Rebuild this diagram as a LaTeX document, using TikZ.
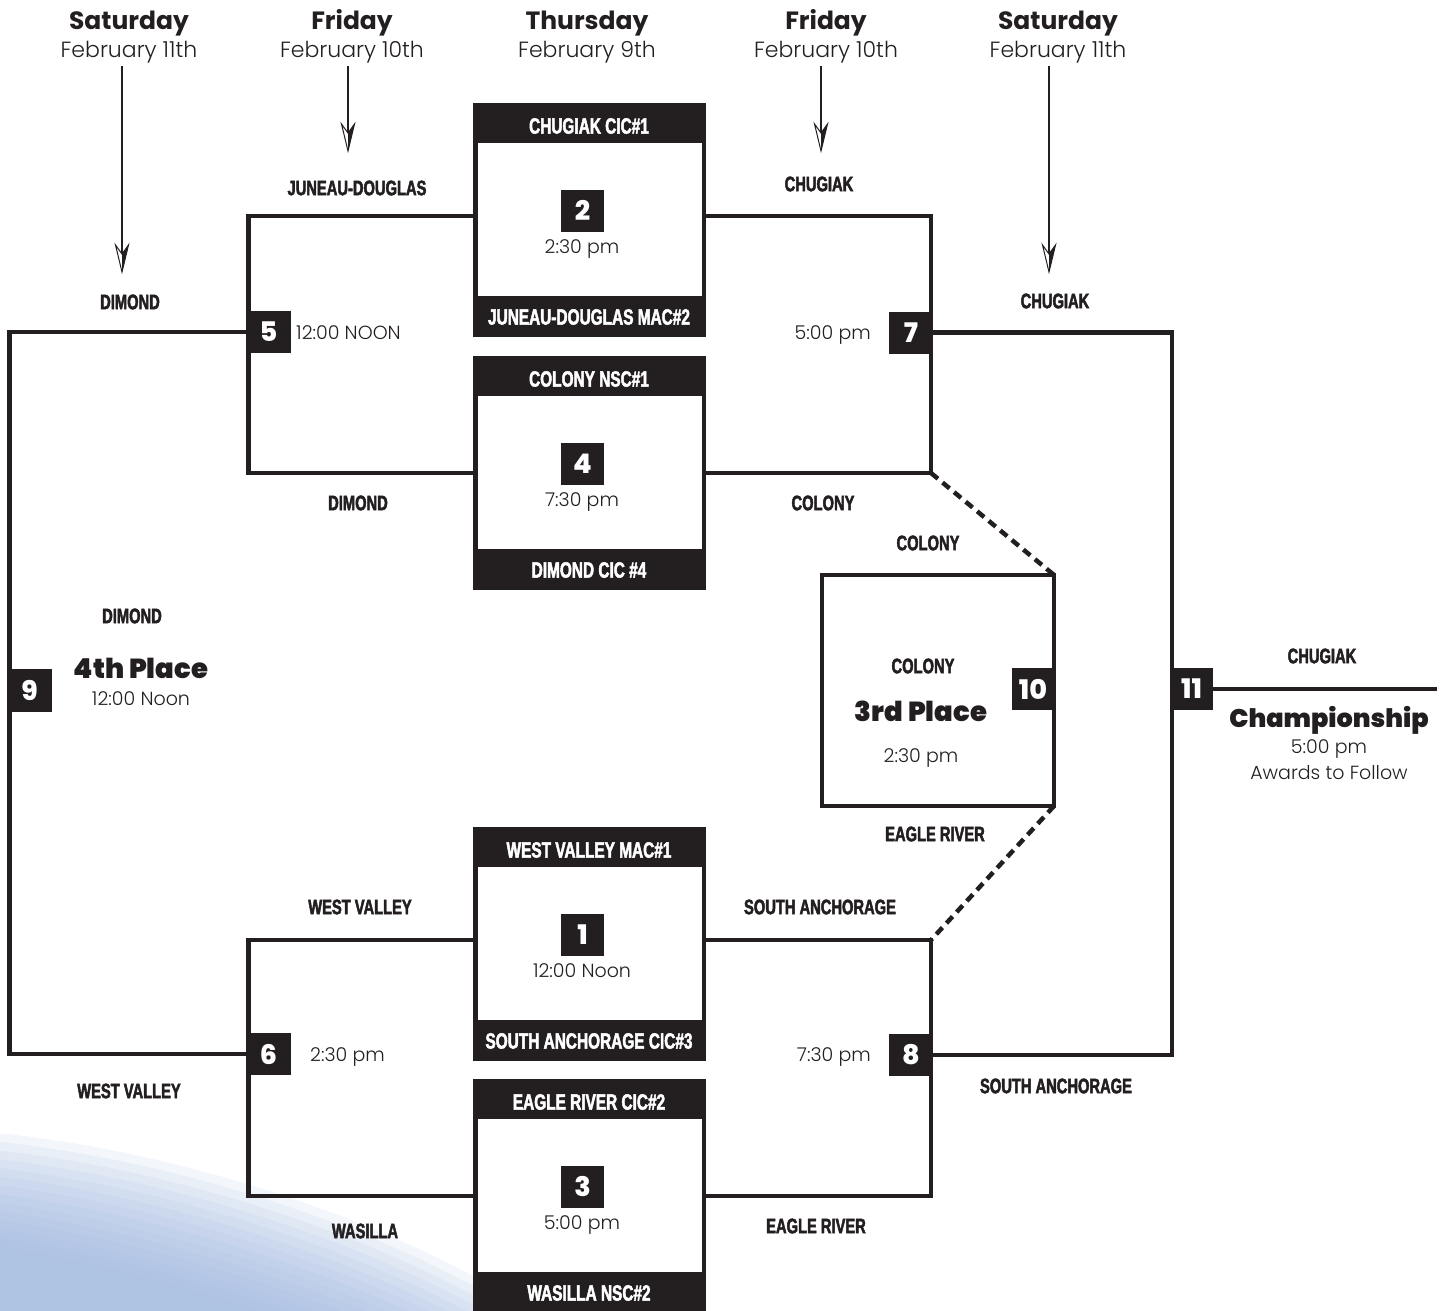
\documentclass[tikz,border=0pt]{standalone}
\usepackage{fontspec}
\setmainfont{Poppins}
\newfontfamily\bookfont{Poppins Light}
\newfontfamily\boldfont{Poppins Bold}
\newfontfamily\heavyfont{Poppins ExtraBold}
\newfontfamily\blackfont{Poppins Black}
\newfontfamily\teamfont[FakeStretch=0.70,FakeBold=2.2]{Liberation Sans Bold}
\usetikzlibrary{arrows.meta}
\definecolor{ink}{HTML}{231F20}
\definecolor{ice}{RGB}{160,183,222}
\tikzset{
  bk/.style={draw=ink, line width=4.5pt},
  dsh/.style={draw=ink, line width=4.5pt, dash pattern=on 9pt off 6pt},
  thinline/.style={draw=ink, line width=1.8pt},
  numbox/.style={fill=ink, text=white, inner sep=0pt, outer sep=0pt, minimum width=43pt, minimum height=42pt, font=\heavyfont\fontsize{27}{27}\selectfont},
  team/.style={text=ink, inner sep=0pt, font=\teamfont\fontsize{21}{21}\selectfont},
  hdr/.style={text=white, inner sep=0pt, font=\teamfont\fontsize{22}{22}\selectfont},
  timetxt/.style={text=ink, inner sep=0pt, anchor=base, font=\bookfont\fontsize{19}{19}\selectfont},
  dayname/.style={text=ink, inner sep=0pt, anchor=base, font=\boldfont\fontsize{25}{25}\selectfont},
  daydate/.style={text=ink, inner sep=0pt, anchor=base, font=\bookfont\fontsize{22}{22}\selectfont},
  place/.style={text=ink, inner sep=0pt, anchor=base, font=\blackfont\fontsize{27.5}{27.5}\selectfont},
  gamebox/.style={fill=ink, inner sep=0pt, outer sep=0pt, minimum width=233pt, minimum height=234pt},
  gamein/.style={fill=white, inner sep=0pt, outer sep=0pt, minimum width=224pt, minimum height=153pt},
  ahead/.pic={
    \draw[ink, line width=1pt, fill=white, line join=miter] (0,0) -- (-6.5,-27) -- (0,-18) -- (6.5,-27) -- cycle;
    \fill[ink] (0,0) -- (0,-18) -- (6.5,-27) -- cycle;
  }
}
\newcommand\bracketgame[6]{%
  \node[gamebox] (#1) at (589.5,#2+117) {};
  \node[gamein] (#1w) at (590,#2+116.5) {};
  \node[hdr] (#1h) at (589,#2+23) {#3};
  \node[hdr] (#1f) at (589,#2+214) {#4};
  \node[numbox] (#1n) at (582.5,#2+107.5) {#5};
  \node[timetxt] (#1t) at (582,#2+150) {#6};
}
\begin{document}
\begin{tikzpicture}[x=1pt,y=-1pt]
\useasboundingbox (0,0) rectangle (1448,1311);
% icy background, bottom left
\begin{scope}
\clip (0,0) rectangle (1448,1311);
\foreach \k in {0,...,13}
  \fill[ice, opacity=0.12] (170,1375) ellipse [x radius=540pt-\k*9pt, y radius=205pt-\k*9pt, rotate=-16];
\end{scope}

% day headers
\node[dayname] (d1) at (129,30) {Saturday};
\node[daydate] (e1) at (129,58) {February 11th};
\node[dayname] (d2) at (352,30) {Friday};
\node[daydate] (e2) at (352,58) {February 10th};
\node[dayname] (d3) at (587,30) {Thursday};
\node[daydate] (e3) at (587,58) {February 9th};
\node[dayname] (d4) at (826,30) {Friday};
\node[daydate] (e4) at (826,58) {February 10th};
\node[dayname] (d5) at (1058,30) {Saturday};
\node[daydate] (e5) at (1058,58) {February 11th};

% arrows
\coordinate (a1s) at (122,66); \coordinate (a1e) at (122,272);
\coordinate (a2s) at (348,66); \coordinate (a2e) at (348,151);
\coordinate (a3s) at (821,66); \coordinate (a3e) at (821,151);
\coordinate (a4s) at (1049,66); \coordinate (a4e) at (1049,272);
\draw[thinline] (a1s) -- ([yshift=18pt]a1e);
\draw[thinline] (a2s) -- ([yshift=18pt]a2e);
\draw[thinline] (a3s) -- ([yshift=18pt]a3e);
\draw[thinline] (a4s) -- ([yshift=18pt]a4e);
\pic at (a1e) {ahead};
\pic at (a2e) {ahead};
\pic at (a3e) {ahead};
\pic at (a4e) {ahead};

% game boxes
\bracketgame{g2}{103}{CHUGIAK CIC\#1}{JUNEAU-DOUGLAS MAC\#2}{2}{2:30 pm}
\bracketgame{g4}{356}{COLONY NSC\#1}{DIMOND CIC \#4}{4}{7:30 pm}
\bracketgame{g1}{827}{WEST VALLEY MAC\#1}{SOUTH ANCHORAGE CIC\#3}{1}{12:00 Noon}
\bracketgame{g3}{1079}{EAGLE RIVER CIC\#2}{WASILLA NSC\#2}{3}{5:00 pm}

% 3rd place box
\node[draw=ink, line width=4.5pt, inner sep=0pt, outer sep=0pt, minimum width=232pt, minimum height=231pt] (b10) at (938,690.5) {};

% bracket number boxes
\node[numbox, minimum width=45pt] (n5) at (268.5,332) {5};
\node[numbox, minimum width=44pt] (n7) at (911,332.5) {7};
\node[numbox, minimum width=45pt] (n6) at (268.5,1054) {6};
\node[numbox, minimum width=44pt] (n8) at (911,1055) {8};
\node[numbox, minimum width=45pt, minimum height=43pt] (n9) at (29.5,690.5) {9};
\node[numbox] (n10) at (1033,689) {10};
\node[numbox] (n11) at (1191.5,689) {11};

% bracket lines
\coordinate (q5) at (248.5,350);
\coordinate (q7) at (931,350);
\coordinate (q6) at (248.5,1050);
\coordinate (q8) at (931,1050);
\coordinate (q9) at (9.5,700);
\coordinate (q11) at (1172,700);
\coordinate (c7) at (931,473);
\coordinate (c8) at (931,940);
\coordinate (champend) at (1437,689);
\draw[bk] ([yshift=4pt]g2.west) -| (q5) |- (g4.west);
\draw[bk] ([yshift=4pt]g2.east) -| (q7) |- (g4.east);
\draw[bk] ([yshift=4pt]g1.west) -| (q6) |- (g3.west);
\draw[bk] ([yshift=4pt]g1.east) -| (q8) |- (g3.east);
\draw[bk] (n5.west) -| (q9) |- (n6.west);
\draw[bk] (n7.east) -| (q11) |- (n8.east);
\draw[bk] (n11.east) -- (champend);
\draw[dsh] (c7) -- (b10.north east);
\draw[dsh] (b10.south east) -- (c8);

% bracket times
\node[timetxt, anchor=base west] (t5) at (296,339) {12:00 NOON};
\node[timetxt, anchor=base east] (t7) at (871,339) {5:00 pm};
\node[timetxt, anchor=base west] (t6) at (310,1061) {2:30 pm};
\node[timetxt, anchor=base east] (t8) at (871,1061) {7:30 pm};

% team labels
\node[team] (l1) at (357,188) {JUNEAU-DOUGLAS};
\node[team] (l2) at (130,302) {DIMOND};
\node[team] (l3) at (819,184) {CHUGIAK};
\node[team] (l4) at (1055,301) {CHUGIAK};
\node[team] (l5) at (358,503) {DIMOND};
\node[team] (l6) at (823,503) {COLONY};
\node[team] (l7) at (928,543) {COLONY};
\node[team] (l8) at (132,616) {DIMOND};
\node[team] (l9) at (923,666) {COLONY};
\node[team] (l10) at (1322,656) {CHUGIAK};
\node[team] (l11) at (935,834) {EAGLE RIVER};
\node[team] (l12) at (360,907) {WEST VALLEY};
\node[team] (l13) at (820,907) {SOUTH ANCHORAGE};
\node[team] (l14) at (129,1091) {WEST VALLEY};
\node[team] (l15) at (1056,1086) {SOUTH ANCHORAGE};
\node[team] (l16) at (365,1231) {WASILLA};
\node[team] (l17) at (816,1226) {EAGLE RIVER};

% placement games
\node[place] (p4) at (141,678) {4th Place};
\node[timetxt] (p4t) at (141,705) {12:00 Noon};
\node[place] (p3) at (921,721) {3rd Place};
\node[timetxt] (p3t) at (921,762) {2:30 pm};
\node[place, font=\blackfont\fontsize{25.5}{25.5}\selectfont] (pc) at (1329,727) {Championship};
\node[timetxt] (pct) at (1329,753) {5:00 pm};
\node[timetxt] (pca) at (1329,779) {Awards to Follow};
\end{tikzpicture}
\end{document}
